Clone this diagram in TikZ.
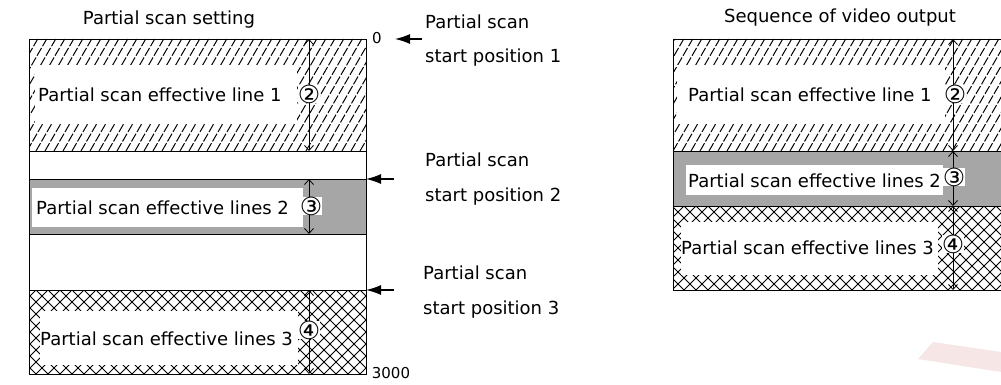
\documentclass[tikz,border=0pt]{standalone}
\usepackage{fontspec}
\setmainfont{DejaVu Sans}
\usetikzlibrary{arrows.meta}
\definecolor{band}{RGB}{166,166,166}
\definecolor{wmark}{RGB}{247,230,230}
\begin{document}
\begin{tikzpicture}[x=1pt,y=-1pt,
  lbl/.style={font=\fontsize{18}{20}\selectfont, inner sep=0pt, anchor=west},
  ttl/.style={font=\fontsize{18}{20}\selectfont, inner sep=0pt},
  num/.style={font=\fontsize{15}{17}\selectfont, inner sep=0pt},
  circ/.style={font=\fontsize{25}{27}\selectfont, inner sep=0pt, fill=white},
  dim/.style={line width=0.8pt, {Straight Barb[length=5pt,width=9pt]}-{Straight Barb[length=5pt,width=9pt]}},
  ptr/.style={line width=1.3pt, -{Latex[length=15pt,width=10pt]}},
  hatch/.style={line width=1pt, dash pattern=on 9pt off 2pt},
  xh/.style={line width=0.8pt},
  mask/.style={fill=white},
  frame/.style={line width=0.9pt}
]
\useasboundingbox (0,0) rectangle (1001,385);

% watermark
\fill[wmark] (918,359) -- (933,342) -- (1001,352) -- (1001,372) -- cycle;

% ---------- left diagram ----------
\node[ttl] (ltitle) at (169,20) {Partial scan setting};

\coordinate (L0) at (29,39);   \coordinate (L0r) at (366,39);
\coordinate (L1) at (29,151);  \coordinate (L1r) at (366,151);
\coordinate (L2) at (29,179);  \coordinate (L2r) at (366,179);
\coordinate (L3) at (29,234);  \coordinate (L3r) at (366,234);
\coordinate (L4) at (29,290);  \coordinate (L4r) at (366,290);
\coordinate (L5) at (29,374);  \coordinate (L5r) at (366,374);

% band 1 hatching
\begin{scope}
  \clip (L0) rectangle (L1r);
  \foreach \x in {-45,-36,...,370} \draw[hatch] (\x,151) -- ++(64.7,-112);
\end{scope}
% band 2 grey
\fill[band] (L2) rectangle (L3r);
% band 3 crosshatch
\begin{scope}
  \clip (L4) rectangle (L5r);
  \foreach \x in {-60,-48,...,370} {
    \draw[xh] (\x,374) -- ++(84,-84);
    \draw[xh] (\x,290) -- ++(84,84);
  }
\end{scope}

% white masks behind the labels
\fill[mask] (35,65) rectangle (297,123);
\fill[mask] (32,188) rectangle (303,227);
\fill[mask] (40,311) rectangle (298,365);

% frame
\draw[frame] (L0) rectangle (L5r);
\draw[frame] (L1) -- (L1r);
\draw[frame] (L2) -- (L2r);
\draw[frame] (L3) -- (L3r);
\draw[frame] (L4) -- (L4r);

% dimension arrows
\coordinate (d0) at (309,39);  \coordinate (d1) at (309,151);
\coordinate (d2) at (309,179); \coordinate (d3) at (309,234);
\coordinate (d4) at (309,290); \coordinate (d5) at (309,374);
\draw[dim] (d0) -- (d1);
\draw[dim] (d2) -- (d3);
\draw[dim] (d4) -- (d5);

% labels
\node[lbl] (l1) at (38,95) {Partial scan effective line 1};
\node[circ] (c1) at (309,94) {②};
\node[lbl] (l2) at (36,208) {Partial scan effective lines 2};
\node[circ] (c2) at (311,206) {③};
\node[lbl] (l3) at (40,339) {Partial scan effective lines 3};
\node[circ] (c3) at (309,330) {④};

% scale numbers
\node[num] (n0) at (377,38) {0};
\node[num] (n3000) at (391,373) {3000};

% start position pointers
\coordinate (p1s) at (422,39); \coordinate (p1e) at (395,39);
\draw[ptr] (p1s) -- (p1e);
\coordinate (p2s) at (394,179);
\draw[ptr] (p2s) -- (L2r);
\coordinate (p3s) at (394,290);
\draw[ptr] (p3s) -- (L4r);

\node[lbl] (s1a) at (425,22) {Partial scan};
\node[lbl] (s1b) at (425,58) {start position 1};
\node[lbl] (s2a) at (425,160) {Partial scan};
\node[lbl] (s2b) at (425,197) {start position 2};
\node[lbl] (s3a) at (423,273) {Partial scan};
\node[lbl] (s3b) at (423,310) {start position 3};

% ---------- right diagram ----------
\node[ttl] (rtitle) at (840,18) {Sequence of video output};

\coordinate (R0) at (673,39);  \coordinate (R0r) at (1005,39);
\coordinate (R1) at (673,151); \coordinate (R1r) at (1005,151);
\coordinate (R2) at (673,206); \coordinate (R2r) at (1005,206);
\coordinate (R3) at (673,290); \coordinate (R3r) at (1005,290);

\begin{scope}
  \clip (R0) rectangle (R1r);
  \foreach \x in {610,619,...,1010} \draw[hatch] (\x,151) -- ++(64.7,-112);
\end{scope}
\fill[band] (R1) rectangle (R2r);
\begin{scope}
  \clip (R2) rectangle (R3r);
  \foreach \x in {588,600,...,1010} {
    \draw[xh] (\x,290) -- ++(84,-84);
    \draw[xh] (\x,206) -- ++(84,84);
  }
\end{scope}

\fill[mask] (677,65) rectangle (945,123);
\fill[mask] (686,165) rectangle (943,195);
\fill[mask] (681,222) rectangle (938,275);

\draw[frame] (R0r) -- (R0) -- (R3) -- (R3r);
\draw[frame] (R1) -- (R1r);
\draw[frame] (R2) -- (R2r);

\coordinate (e0) at (953,39);  \coordinate (e1) at (953,151);
\coordinate (e2) at (953,206); \coordinate (e3) at (953,290);
\draw[dim] (e0) -- (e1);
\draw[dim] (e1) -- (e2);
\draw[dim] (e2) -- (e3);

\node[lbl] (r1) at (688,95) {Partial scan effective line 1};
\node[circ] (rc1) at (955,94) {②};
\node[lbl] (r2) at (688,181) {Partial scan effective lines 2};
\node[circ] (rc2) at (954,177) {③};
\node[lbl] (r3) at (681,248) {Partial scan effective lines 3};
\node[circ] (rc3) at (953,244) {④};
\end{tikzpicture}
\end{document}
